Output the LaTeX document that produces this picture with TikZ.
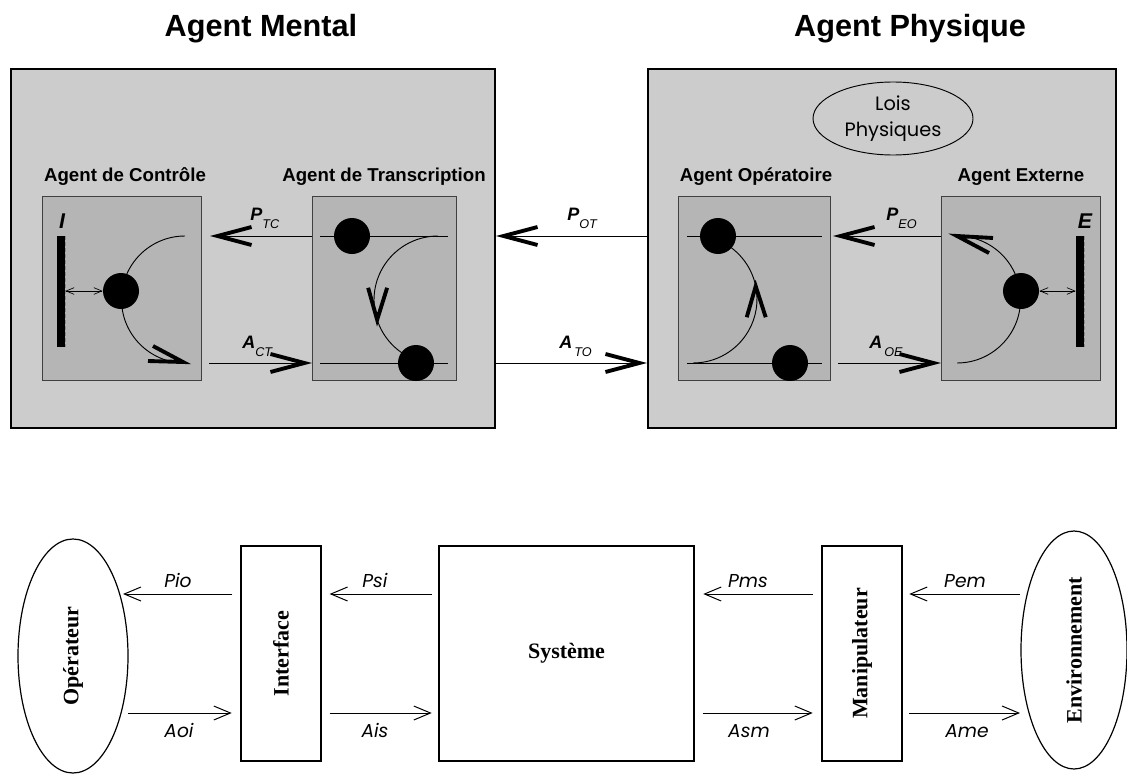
\documentclass[tikz,border=0pt]{standalone}
\usepackage{fontspec}
\setmainfont{Liberation Serif}
\setsansfont{Liberation Sans}
\newfontfamily\gothic{Poppins}
\usetikzlibrary{arrows.meta,shapes.geometric}
\definecolor{outergrey}{gray}{0.80}
\definecolor{innergrey}{gray}{0.71}
\newcommand\flowlabel[2]{\textbf{\textit{#1}}\raisebox{-6pt}{\fontsize{9.5}{11}\selectfont\textit{#2}}}
\begin{document}
\begin{tikzpicture}[x=0.75pt,y=-0.75pt,
  outerbox/.style={draw=black,line width=1.5pt,fill=outergrey,anchor=north west,inner sep=0pt},
  innerbox/.style={draw=black!75,line width=0.7pt,fill=innergrey,anchor=north west,inner sep=0pt},
  ball/.style={circle,fill=black,inner sep=0pt,minimum size=27pt},
  bar/.style={rectangle,fill=black,inner sep=0pt,minimum width=6pt,minimum height=83pt},
  titletext/.style={font=\sffamily\bfseries\fontsize{23}{27}\selectfont,anchor=base},
  subtext/.style={font=\sffamily\bfseries\fontsize{14}{17}\selectfont,anchor=base},
  flowlab/.style={font=\sffamily\fontsize{13.5}{16}\selectfont,anchor=base west,inner sep=0pt},
  barlab/.style={font=\sffamily\bfseries\itshape\fontsize{16}{19}\selectfont,anchor=base,inner sep=0pt},
  thinline/.style={line width=0.7pt},
  chevron/.style={line width=2.9pt,line join=miter,line cap=butt},
  bigarrow/.style={line width=0.7pt,-{Straight Barb[length=25.5pt,width=13.5pt,line width=2.9pt]}},
  smallarrows/.style={line width=0.5pt,{Straight Barb[length=6pt,width=5pt]}-{Straight Barb[length=6pt,width=5pt]}},
  openarrow/.style={line width=0.75pt,-{Straight Barb[length=12.5pt,width=10.5pt]}},
  blockbox/.style={draw=black,line width=0.9pt,inner sep=0pt},
  blockellipse/.style={draw=black,line width=0.9pt,ellipse,inner sep=0pt},
  blocktext/.style={font=\rmfamily\bfseries\fontsize{16.5}{20}\selectfont},
  gothiclab/.style={font=\gothic\itshape\fontsize{14}{17}\selectfont,anchor=base,inner sep=0pt},
]
\useasboundingbox (0,0) rectangle (1127,774);

% ---------- titles
\node[titletext] (tmental) at (261,37) {Agent Mental};
\node[titletext] (tphys) at (910,37) {Agent Physique};

% ---------- outer boxes
\node[outerbox,minimum width=363pt,minimum height=269.25pt] (mental) at (10,68) {};
\node[outerbox,minimum width=351pt,minimum height=269.25pt] (phys) at (647,68) {};

% ---------- Lois Physiques
\node[draw=black,line width=0.7pt,ellipse,inner sep=0pt,minimum width=120pt,minimum height=54.75pt,
      align=center,font=\gothic\fontsize{14.5}{19}\selectfont] (lois) at (893,118.5) {Lois\\Physiques};

% ---------- inner boxes
\node[innerbox,minimum width=119.25pt,minimum height=138pt] (ctrl) at (42,196) {};
\node[innerbox,minimum width=108pt,minimum height=138pt] (trans) at (312,196) {};
\node[innerbox,minimum width=114pt,minimum height=138pt] (oper) at (678,196) {};
\node[innerbox,minimum width=119.25pt,minimum height=138pt] (ext) at (941,196) {};

\node[subtext] (lctrl) at (125,181) {Agent de Contrôle};
\node[subtext] (ltrans) at (384,181) {Agent de Transcription};
\node[subtext] (loper) at (756,181) {Agent Opératoire};
\node[subtext] (lext) at (1021,181) {Agent Externe};

\coordinate (pline) at (0,236);
\coordinate (aline) at (0,363);

% ---------- lines inside transcription / operatoire
\draw[thinline] (320,236) coordinate (t1) -- (448,236) coordinate (t2);
\draw[thinline] (320,363) coordinate (t3) -- (448,363) coordinate (t4);
\draw[thinline] (687,236) coordinate (o1) -- (822,236) coordinate (o2);
\draw[thinline] (687,363) coordinate (o3) -- (822,363) coordinate (o4);

% ---------- arcs
\coordinate (ctop) at (185,236);
\draw[thinline] (ctop) arc[start angle=-90,end angle=-270,radius=63.5] coordinate (cend);
\coordinate (ttop) at (438,236);
\draw[thinline] (ttop) arc[start angle=-90,end angle=-198,radius=64] coordinate (tmid)
      arc[start angle=-198,end angle=-251,radius=64];
\coordinate (obot) at (693,363);
\draw[thinline] (obot) arc[start angle=90,end angle=-11.5,radius=64] coordinate (omid)
      arc[start angle=-11.5,end angle=-68,radius=64];
\coordinate (ebot) at (957,363);
\draw[thinline] (ebot) arc[start angle=90,end angle=-90,radius=63.5] coordinate (eend);

% ---------- chevrons on the arcs
\draw[chevron] (cend) ++(-32,-17) -- ([shift={(-2,-1)}]cend) -- ++(-35,-1);
\draw[chevron] (tmid) ++(-9,-32) -- (tmid) -- ++(10,-32);
\draw[chevron] (omid) ++(-9,31) -- (omid) -- ++(10,31);
\draw[chevron] (eend) ++(36,2) -- (eend) -- ++(32,17);

% ---------- bars
\node[bar] (ibar) at (61,291.5) {};
\draw[black!45,line width=0.6pt,dash pattern=on 3pt off 1.5pt] ([xshift=0.4pt]ibar.north east) -- ([xshift=0.4pt]ibar.south east);
\node[bar] (ebar) at (1080,291.5) {};
\draw[black!45,line width=0.6pt,dash pattern=on 3pt off 1.5pt] ([xshift=0.4pt]ebar.north east) -- ([xshift=0.4pt]ebar.south east);
\node[barlab] (ilab) at (62,228) {I};
\node[barlab] (elab) at (1085,228) {E};

% ---------- balls
\node[ball] (cb) at (121,291) {};
\node[ball] (tb1) at (352,236) {};
\node[ball] (tb2) at (416,363) {};
\node[ball] (ob1) at (718,236) {};
\node[ball] (ob2) at (790,363) {};
\node[ball] (eb) at (1021,291) {};

\draw[smallarrows] (ibar.east |- cb) -- (cb.west);
\draw[smallarrows] (eb.east) -- (ebar.west |- eb);

% ---------- flows between agents
\coordinate (ptctip) at (210,236);
\coordinate (actstart) at (209,363);
\coordinate (peotip) at (833,236);
\coordinate (aoestart) at (838,363);
\draw[bigarrow] (trans.west |- pline) -- (ptctip);
\draw[bigarrow] (actstart) -- (trans.west |- aline);
\draw[bigarrow] (phys.west |- pline) -- (mental.east |- pline);
\draw[bigarrow] (mental.east |- aline) -- (phys.west |- aline);
\draw[bigarrow] (ext.west |- pline) -- (peotip);
\draw[bigarrow] (aoestart) -- (ext.west |- aline);

\node[flowlab] (lptc) at (250,220) {\flowlabel{P}{TC}};
\node[flowlab] (lact) at (242,348) {\flowlabel{A}{CT}};
\node[flowlab] (lpot) at (567,220) {\flowlabel{P}{OT}};
\node[flowlab] (lato) at (559,348) {\flowlabel{A}{\,TO}};
\node[flowlab] (lpeo) at (886,220) {\flowlabel{P}{EO}};
\node[flowlab] (laoe) at (869,348) {\flowlabel{A}{\,OE}};

% ---------- bottom diagram
\node[blockellipse,blocktext,rotate=90,minimum width=175.5pt,minimum height=82.5pt] (op) at (73,656) {Opérateur};
\node[blockbox,blocktext,rotate=90,minimum width=161.25pt,minimum height=60pt] (iface) at (281,653.5) {Interface};
\node[blockbox,blocktext,minimum width=191.25pt,minimum height=161.25pt] (sys) at (566.5,653.5) {Système};
\node[blockbox,blocktext,rotate=90,minimum width=161.25pt,minimum height=60pt] (manip) at (862,653.5) {Manipulateur};
\node[blockellipse,blocktext,rotate=90,minimum width=178.5pt,minimum height=79.5pt] (env) at (1074,650) {Environnement};

\coordinate (pb) at (0,594);
\coordinate (ab) at (0,713);
\coordinate (optip) at (123,594);
\coordinate (opstart) at (128,713);
\coordinate (envstart) at (1020,594);
\coordinate (envtip) at (1020,713);

\draw[openarrow,shorten <=6pt] (iface.north |- pb) -- (optip);
\draw[openarrow,shorten >=6.5pt] (opstart) -- (iface.north |- ab);
\draw[openarrow,shorten <=5pt,shorten >=6pt] (sys.west |- pb) -- (iface.south |- pb);
\draw[openarrow,shorten <=6pt,shorten >=5pt] (iface.south |- ab) -- (sys.west |- ab);
\draw[openarrow,shorten <=6.5pt,shorten >=6.5pt] (manip.north |- pb) -- (sys.east |- pb);
\draw[openarrow,shorten <=6pt,shorten >=6.5pt] (sys.east |- ab) -- (manip.north |- ab);
\draw[openarrow,shorten >=5pt] (envstart) -- (manip.south |- pb);
\draw[openarrow,shorten <=5pt] (manip.south |- ab) -- (envtip);

\node[gothiclab] (lpio) at (178,587) {Pio};
\node[gothiclab] (laoi) at (179,737) {Aoi};
\node[gothiclab] (lpsi) at (375,587) {Psi};
\node[gothiclab] (lais) at (375,737) {Ais};
\node[gothiclab] (lpms) at (748,587) {Pms};
\node[gothiclab] (lasm) at (749,737) {Asm};
\node[gothiclab] (lpem) at (965,587) {Pem};
\node[gothiclab] (lame) at (967,737) {Ame};
\end{tikzpicture}
\end{document}
